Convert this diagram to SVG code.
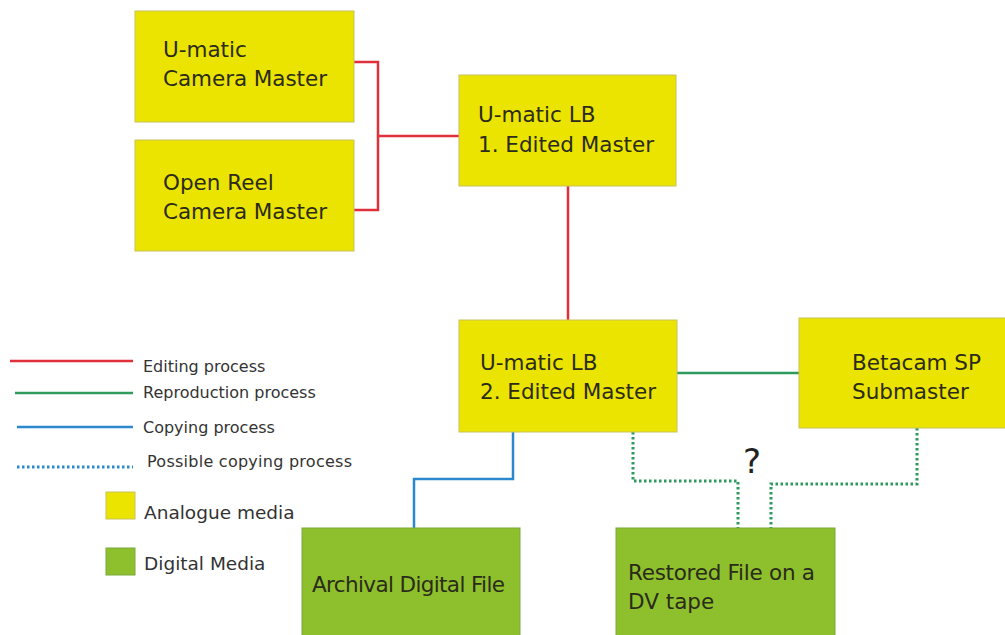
<svg xmlns="http://www.w3.org/2000/svg" width="1005" height="635" viewBox="0 0 1005 635">
<style>
.an{fill:#ebe400;stroke:#c9c25a;stroke-width:1}
.dg{fill:#8dc02c;stroke:#7aa83a;stroke-width:1}
.t{font-family:"DejaVu Sans",sans-serif;font-size:21.5px;fill:#2b2b1a}
.lt{font-family:"DejaVu Sans",sans-serif;font-size:16px;fill:#333}
.lt2{font-family:"DejaVu Sans",sans-serif;font-size:18.5px;fill:#333}
.red{stroke:#e0303a;stroke-width:2.5;fill:none}
.grn{stroke:#2e9a5c;stroke-width:2.5;fill:none}
.blu{stroke:#2a88cc;stroke-width:2.5;fill:none}
.dot{stroke:#2e9a5c;stroke-width:3;fill:none;stroke-dasharray:2.5 2.5}
.dotb{stroke:#2a88cc;stroke-width:3;fill:none;stroke-dasharray:2.5 2.5}
</style>
<rect width="1005" height="635" fill="#fff"/>
<g id="connectors">
<polyline class="red" points="354,62 378,62 378,210 354,210"/>
<line class="red" x1="378" y1="136" x2="459" y2="136"/>
<line class="red" x1="568" y1="186" x2="568" y2="320"/>
<line class="grn" x1="677" y1="373" x2="799" y2="373"/>
<polyline class="blu" points="513,432 513,479 414,479 414,528"/>
<polyline class="dot" points="633,432 633,481 738,481 738,528"/>
<polyline class="dot" points="917,428 917,484 771,484 771,528"/>
<text x="743" y="473" font-family="DejaVu Sans,sans-serif" font-size="34" fill="#222">?</text>
</g>
<g id="n1"><rect class="an" x="135" y="11" width="219" height="111"/><text class="t" x="163" y="57">U-matic</text><text class="t" x="163" y="86" textLength="164">Camera Master</text></g>
<g id="n2"><rect class="an" x="135" y="140" width="219" height="111"/><text class="t" x="163" y="190">Open Reel</text><text class="t" x="163" y="219" textLength="164">Camera Master</text></g>
<g id="n3"><rect class="an" x="459" y="75" width="217" height="111"/><text class="t" x="478" y="122">U-matic LB</text><text class="t" x="478" y="152">1. Edited Master</text></g>
<g id="n4"><rect class="an" x="459" y="320" width="218" height="112"/><text class="t" x="480" y="370">U-matic LB</text><text class="t" x="480" y="399">2. Edited Master</text></g>
<g id="n5"><rect class="an" x="799" y="318" width="210" height="110"/><text class="t" x="852" y="370">Betacam SP</text><text class="t" x="852" y="399">Submaster</text></g>
<g id="n6"><rect class="dg" x="302" y="528" width="218" height="110"/><text class="t" x="312" y="592" textLength="193">Archival Digital File</text></g>
<g id="n7"><rect class="dg" x="616" y="528" width="219" height="110"/><text class="t" x="628" y="580" textLength="187">Restored File on a</text><text class="t" x="628" y="609">DV tape</text></g>
<g id="legend">
<line class="red" x1="10" y1="361" x2="133" y2="361"/><text class="lt" x="143" y="372">Editing process</text>
<line class="grn" x1="15" y1="393" x2="133" y2="393"/><text class="lt" x="143" y="398">Reproduction process</text>
<line class="blu" x1="17" y1="427" x2="133" y2="427"/><text class="lt" x="143" y="433">Copying process</text>
<line class="dotb" x1="17" y1="467" x2="133" y2="467"/><text class="lt" x="147" y="467" textLength="205">Possible copying process</text>
<rect class="an" x="106" y="492" width="29" height="27"/><text class="lt2" x="144" y="519">Analogue media</text>
<rect class="dg" x="106" y="548" width="29" height="27"/><text class="lt2" x="144" y="570">Digital Media</text>
</g>
</svg>
